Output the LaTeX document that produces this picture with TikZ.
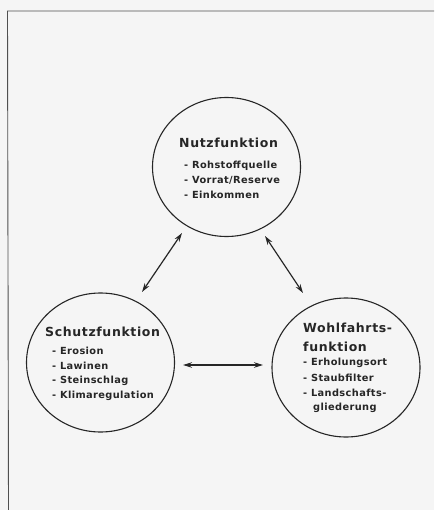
\documentclass[tikz,border=0pt]{standalone}
\usepackage{fontspec}
\newfontfamily\tfont{DejaVu Sans}[LetterSpace=5]
\newfontfamily\ifont{DejaVu Sans}[LetterSpace=4]
\usetikzlibrary{shapes.geometric,arrows.meta}
\definecolor{bg}{HTML}{F5F5F5}
\definecolor{ink}{HTML}{262626}
\definecolor{frame}{HTML}{505050}
\tikzset{
  func/.style={draw=ink, line width=1.1pt, ellipse, minimum width=148pt, minimum height=139pt, inner sep=0pt},
  ttl/.style={anchor=base west, inner sep=0pt, text=ink, font=\tfont\bfseries\fontsize{12.5}{14}\selectfont},
  itm/.style={anchor=base west, inner sep=0pt, text=ink, font=\ifont\bfseries\fontsize{9.8}{11}\selectfont},
  dbl/.style={draw=ink, line width=1.2pt, {Stealth[length=9pt,width=5.5pt]}-{Stealth[length=9pt,width=5.5pt]}}
}
\begin{document}
\begin{tikzpicture}[x=1pt,y=-1pt]
\fill[bg] (0,0) rectangle (434,510);
\useasboundingbox (0,0) rectangle (434,510);
\draw[frame, line width=0.9pt] (8.5,510) -- (7.5,11) -- (434,11);

\node[func] (nutz) at (226.5,167) {};
\node[func] (schutz) at (100.5,362.5) {};
\node[func] (wohl) at (346,367.5) {};

\node[ttl] (n0) at (179,147.5) {Nutzfunktion};
\node[itm] (n1) at (184,168.6) {- Rohstoffquelle};
\node[itm] (n2) at (184,183.6) {- Vorrat/Reserve};
\node[itm] (n3) at (184,198.6) {- Einkommen};

\node[ttl] (s0) at (45,336.5) {Schutzfunktion};
\node[itm] (s1) at (52,354.6) {- Erosion};
\node[itm] (s2) at (52,369.6) {- Lawinen};
\node[itm] (s3) at (52,383.6) {- Steinschlag};
\node[itm] (s4) at (52,398.6) {- Klimaregulation};

\node[ttl] (w0) at (303,332.5) {Wohlfahrts-};
\node[ttl] (w1) at (303,351.5) {funktion};
\node[itm] (w2) at (303,365.6) {- Erholungsort};
\node[itm] (w3) at (303,381.6) {- Staubfilter};
\node[itm] (w4) at (303,396.6) {- Landschafts-};
\node[itm] (w5) at (313,410.5) {gliederung};

\coordinate (a1) at (182,233);
\coordinate (a2) at (142,292);
\coordinate (b1) at (265,236);
\coordinate (b2) at (303,293);
\coordinate (c1) at (183,365);
\coordinate (c2) at (263,365);
\draw[dbl] (a2) -- (a1);
\draw[dbl] (b1) -- (b2);
\draw[dbl] (c1) -- (c2);
\end{tikzpicture}
\end{document}
